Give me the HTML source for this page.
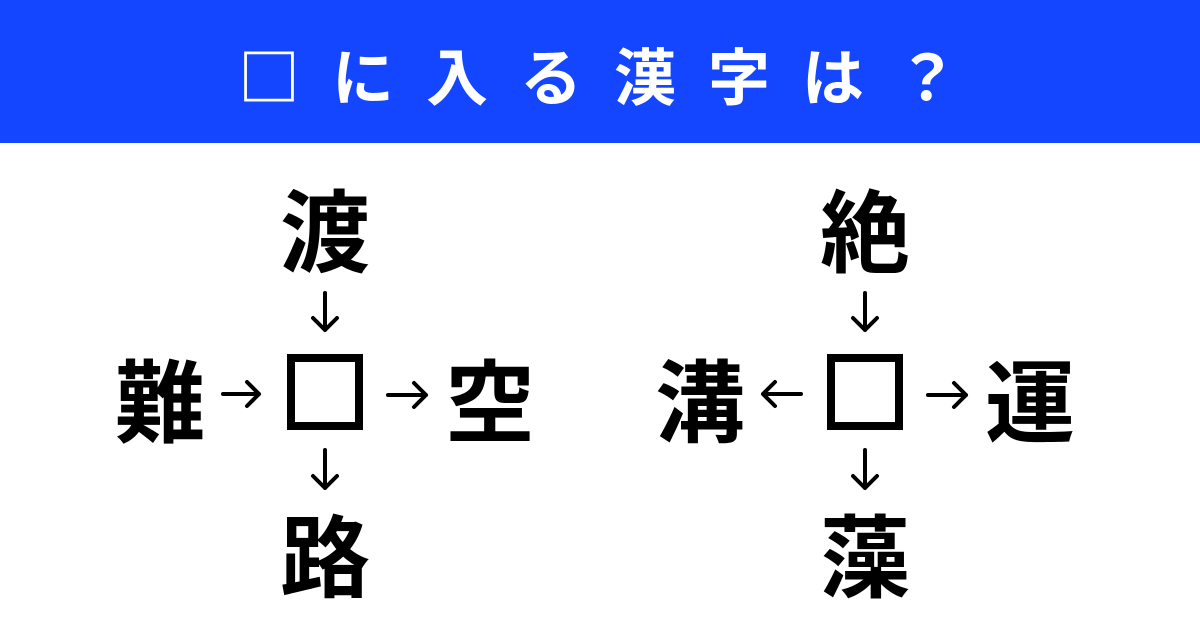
<!DOCTYPE html>
<html><head><meta charset="utf-8"><style>
html,body{margin:0;padding:0;width:1200px;height:628px;background:#fff;overflow:hidden;position:relative;font-family:"Liberation Sans","Noto Sans CJK JP",sans-serif}
.hd{position:absolute;left:0;top:0;width:1200px;height:143px;background:#1446ff}
.tt{position:absolute;left:238px;top:32px;color:#fff;font-size:62px;font-weight:700;letter-spacing:32px;line-height:82px;white-space:nowrap;font-family:"Noto Sans CJK JP",sans-serif}
.k{position:absolute;width:120px;margin-left:-60px;text-align:center;font-size:90px;font-weight:700;line-height:100px;font-family:"Noto Sans CJK JP",sans-serif;color:#000}
.box{position:absolute;width:60px;height:60px;border:8px solid #000}
svg{position:absolute;left:0;top:0}
</style></head><body>
<div class="hd"></div>
<div class="tt">□に入る漢字は？</div>
<div class="k" style="left:325px;top:176px">渡</div>
<div class="k" style="left:160px;top:346px">難</div>
<div class="k" style="left:490px;top:346px">空</div>
<div class="k" style="left:325px;top:501px">路</div>
<div class="box" style="left:287px;top:354px"></div>
<div class="k" style="left:865px;top:176px">絶</div>
<div class="k" style="left:700px;top:346px">溝</div>
<div class="k" style="left:1030px;top:346px">運</div>
<div class="k" style="left:865px;top:501px">藻</div>
<div class="box" style="left:827px;top:354px"></div>
<svg width="1200" height="628" fill="none" stroke="#000" stroke-width="4" stroke-linecap="round" stroke-linejoin="round">
<path d="M325 293V330M313 318L325 330L337 318"/>
<path d="M325 450V488M313 476L325 488L337 476"/>
<path d="M223 394H259M247 382L259 394L247 406"/>
<path d="M388 395H426M414 383L426 395L414 407"/>
<path d="M865 293V330M853 318L865 330L877 318"/>
<path d="M865 450V488M853 476L865 488L877 476"/>
<path d="M801 394H763M775 382L763 394L775 406"/>
<path d="M928 395H966M954 383L966 395L954 407"/>
</svg>
</body></html>
